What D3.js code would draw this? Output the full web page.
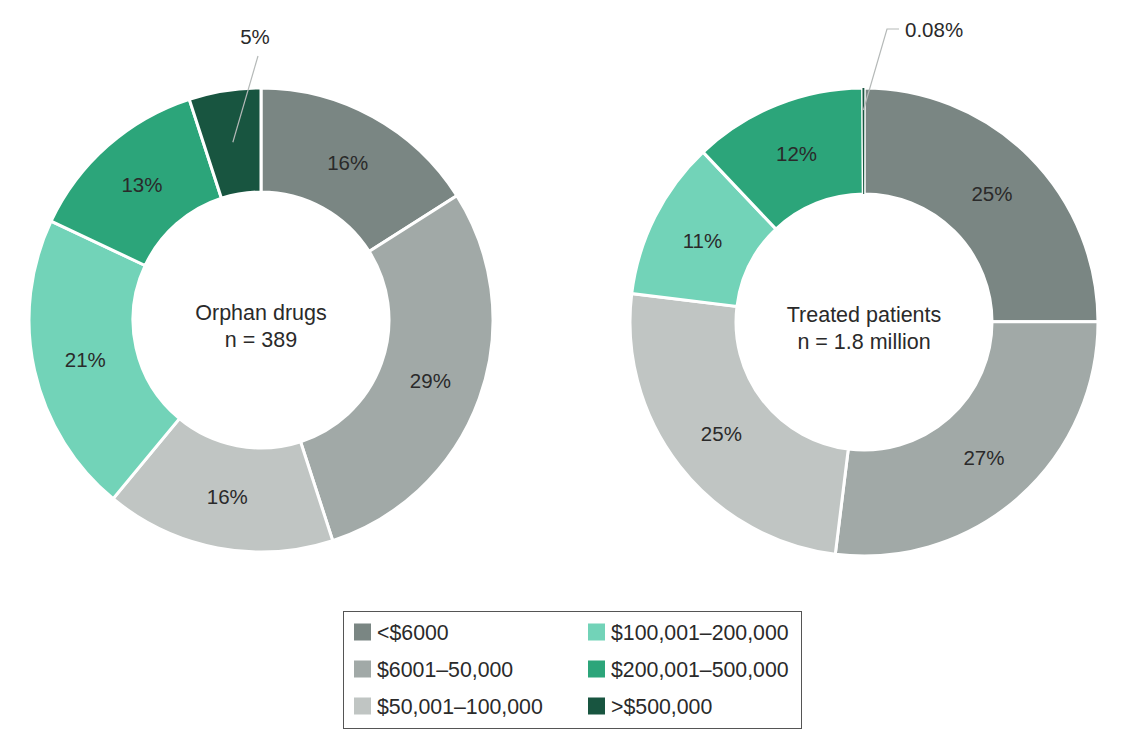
<!DOCTYPE html>
<html>
<head>
<meta charset="utf-8">
<script src="https://cdn.jsdelivr.net/npm/d3@7"></script>
<style>
  html, body { margin: 0; padding: 0; background: #fff; }
  svg { display: block; font-family: "Liberation Sans", Arial, Helvetica, sans-serif; }
</style>
</head>
<body>
<svg id="chart" width="1134" height="750"></svg>
<script>
// ---- data ----
const categories = ["<$6000", "$6001–50,000", "$50,001–100,000", "$100,001–200,000", "$200,001–500,000", ">$500,000"];
const colors = ["#7a8683", "#a1a9a7", "#c0c5c3", "#72d3b8", "#2ca57a", "#185540"];
const orphanDrugs = [16, 29, 16, 21, 13, 5];
const orphanLabels = ["16%", "29%", "16%", "21%", "13%", "5%"];
const treatedPatients = [25, 27, 25, 11, 12, 0.08];
const treatedLabels = ["25%", "27%", "25%", "11%", "12%", "0.08%"];
const centerTitles = [["Orphan drugs", "n = 389"], ["Treated patients", "n = 1.8 million"]];

const svg = d3.select("#chart");
const color = d3.scaleOrdinal().domain(categories).range(colors);
const pie = d3.pie().sort(null).value(d => d.v);

function donut(cx, cy, R, r0, values, labels, titles, calloutIndex, callout) {
  const rLabel = (R + r0) / 2;
  const arc = d3.arc().innerRadius(r0).outerRadius(R);
  const labelArc = d3.arc().innerRadius(rLabel).outerRadius(rLabel);
  const data = values.map((v, i) => ({ v, cat: categories[i], label: labels[i], i }));
  const arcs = pie(data);
  const g = svg.append("g").attr("transform", `translate(${cx},${cy})`);
  g.selectAll("path.slice").data(arcs).join("path")
    .attr("class", "slice")
    .attr("d", arc)
    .attr("fill", d => color(d.data.cat))
    .attr("stroke", "#fff")
    .attr("stroke-width", 3)
    .attr("stroke-linejoin", "miter");
  // make very thin slices visible over the separators
  g.selectAll("path.thin").data(arcs.filter(d => d.endAngle - d.startAngle < 0.02)).join("path")
    .attr("class", "thin")
    .attr("d", d => d3.arc().innerRadius(r0).outerRadius(R)
      .startAngle((d.startAngle + d.endAngle) / 2 - 0.004)
      .endAngle((d.startAngle + d.endAngle) / 2 + 0.004)())
    .attr("fill", d => color(d.data.cat));

  g.selectAll("text.pct").data(arcs.filter(d => d.index !== calloutIndex)).join("text")
    .attr("class", "pct")
    .attr("transform", d => `translate(${labelArc.centroid(d)})`)
    .attr("text-anchor", "middle")
    .attr("dy", "0.36em")
    .attr("font-size", 20.5)
    .attr("fill", "#2a2a2a")
    .text(d => d.data.label);

  // callout
  const a = arcs[calloutIndex];
  const start = callout.startR ? d3.arc().innerRadius(callout.startR).outerRadius(callout.startR).centroid(a) : labelArc.centroid(a);
  const pts = [start].concat(callout.points);
  g.append("path")
    .attr("d", d3.line()(pts))
    .attr("fill", "none")
    .attr("stroke", "#b5b9b8")
    .attr("stroke-width", 1.2);
  g.append("text")
    .attr("x", callout.text[0]).attr("y", callout.text[1])
    .attr("text-anchor", callout.anchor)
    .attr("dy", "0.36em")
    .attr("font-size", 20.5)
    .attr("fill", "#2a2a2a")
    .text(a.data.label);

  g.append("text").attr("text-anchor", "middle").attr("y", 0).attr("font-size", 21.5).attr("fill", "#2a2a2a").text(titles[0]);
  g.append("text").attr("text-anchor", "middle").attr("y", 27).attr("font-size", 21.5).attr("fill", "#2a2a2a").text(titles[1]);
}

donut(261, 320, 232, 128, orphanDrugs, orphanLabels, centerTitles[0], 5,
  { points: [[-3, -264]], text: [-6, -283], anchor: "middle" });
donut(864, 322, 234, 128, treatedPatients, treatedLabels, centerTitles[1], 5,
  { startR: 212, points: [[23, -293], [35, -293]], text: [41, -292], anchor: "start" });

// ---- legend ----
const legend = svg.append("g");
legend.append("rect")
  .attr("x", 343.5).attr("y", 611.5).attr("width", 458).attr("height", 117)
  .attr("fill", "#fff").attr("stroke", "#555").attr("stroke-width", 1);
const colX = [354, 588], rowY = [632, 669, 706];
categories.forEach((c, i) => {
  const x = colX[Math.floor(i / 3)], y = rowY[i % 3];
  legend.append("rect").attr("x", x).attr("y", y - 8.5).attr("width", 17).attr("height", 17).attr("fill", color(c));
  legend.append("text").attr("x", x + 23).attr("y", y).attr("dy", "0.36em")
    .attr("font-size", 21.3).attr("fill", "#2a2a2a").text(c);
});
</script>
</body>
</html>
